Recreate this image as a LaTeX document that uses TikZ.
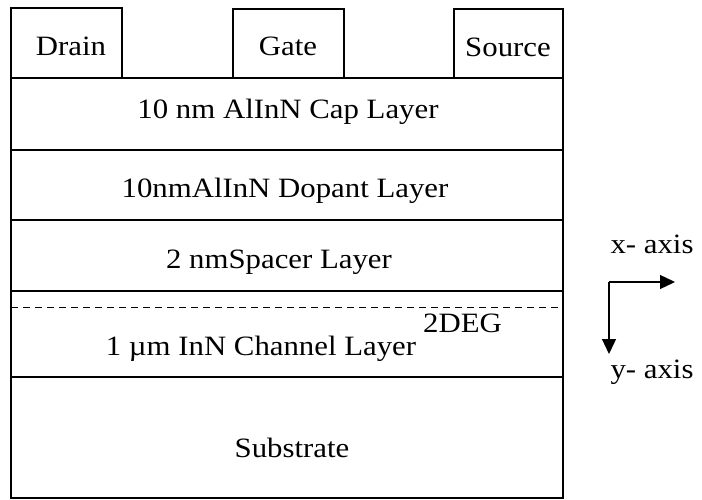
\documentclass[tikz,border=0pt]{standalone}
\usepackage{fontspec}
\setmainfont{Liberation Serif}
\usetikzlibrary{arrows.meta}
\tikzset{
  lyr/.style={draw=black, line width=1.2pt},
  lbl/.style={font=\fontsize{28}{32}\selectfont, xscale=1.1, anchor=base, inner sep=0pt},
  axarrow/.style={line width=1.3pt, -{Triangle[length=15pt,width=14pt]}}
}
\begin{document}
\begin{tikzpicture}[x=1pt,y=-1pt]
\useasboundingbox (0,0) rectangle (702,500);
% contacts
\draw[lyr] (11,78) |- (122,8) -- (122,78);
\draw[lyr] (233,78) |- (344,9) -- (344,78);
\draw[lyr] (454,78) |- (563,9) -- (563,78);
% layers
\draw[lyr] (11,78) rectangle (563,498);
\draw[lyr] (11,150) -- (563,150);
\draw[lyr] (11,220) -- (563,220);
\draw[lyr] (11,291) -- (563,291);
\draw[lyr] (11,377) -- (563,377);
\draw[line width=1pt, dash pattern=on 7pt off 5pt] (11,307) -- (563,307);
% labels
\node[lbl] (drain) at (71,56) {Drain};
\node[lbl] (gate) at (288,56) {Gate};
\node[lbl] (source) at (508,57) {Source};
\node[lbl] (cap) at (288,119) {10 nm AlInN Cap Layer};
\node[lbl] (dop) at (285,198) {10nmAlInN Dopant Layer};
\node[lbl] (spc) at (279,268) {2 nmSpacer Layer};
\node[lbl] (chn) at (261,355) {1 µm InN Channel Layer};
\node[lbl, anchor=base west] (deg) at (423,332) {2DEG};
\node[lbl] (sub) at (292,457) {Substrate};
% axes
\coordinate (o) at (609,282);
\coordinate (xe) at (675,282);
\coordinate (ye) at (609,354);
\draw[axarrow] (o) -- (xe);
\draw[axarrow] (o) -- (ye);
\node[lbl] (xax) at (652,253) {x- axis};
\node[lbl] (yax) at (652,378) {y- axis};
\end{tikzpicture}
\end{document}
